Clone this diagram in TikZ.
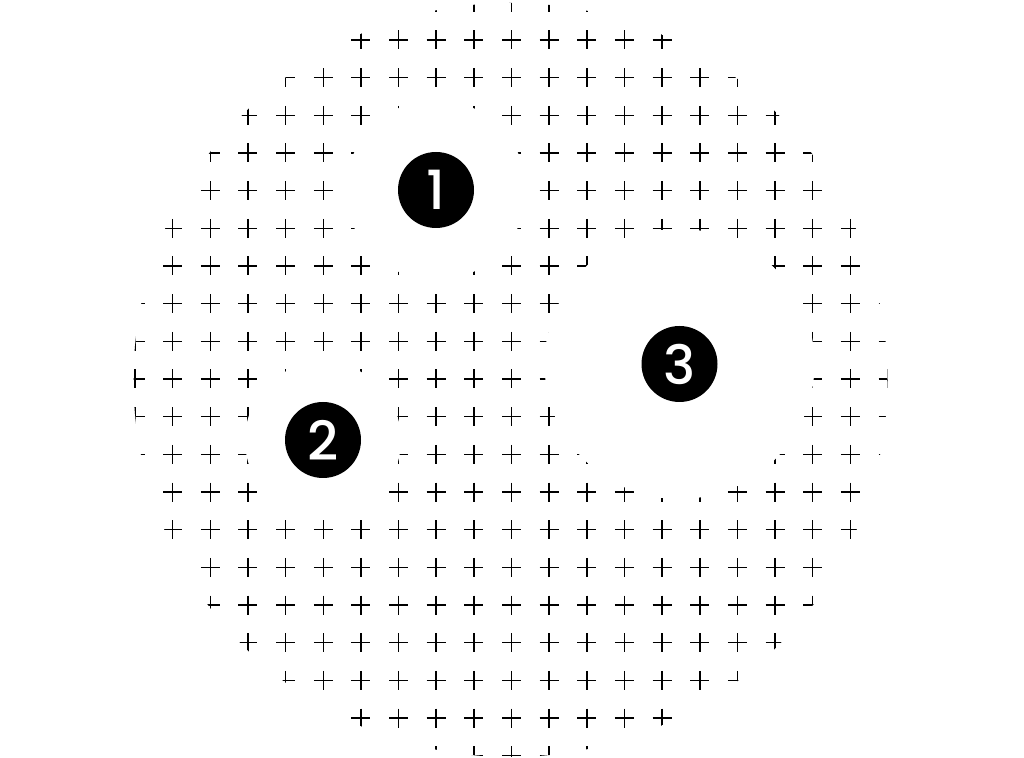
\documentclass[tikz,border=0pt]{standalone}
\usepackage{fontspec}
\setmainfont{Poppins}
\newfontfamily\numfont{Poppins Medium}
\usetikzlibrary{positioning}
\tikzset{
  cross/.style={line width=0.75pt,black},
  hole/.style={circle,fill=white,inner sep=0pt},
  badge/.style={circle,fill=black,text=white,inner sep=0pt,minimum size=38pt,font=\numfont\fontsize{27}{27}\selectfont}
}
\begin{document}
\begin{tikzpicture}[x=0.5pt,y=-0.5pt]
	\useasboundingbox (0,0) rectangle (1024,758);
	\coordinate[] (centre) at (511.5,379);
	\coordinate[] (rim) at (510.5,380);
	\coordinate[] (c1) at (436,190);
	\coordinate[] (c2) at (323,440);
	\coordinate[] (c3) at (679.5,364);
	
	% dotted field of crosses inside the big disc
	\begin{scope}
	\clip (rim) circle[radius=188.5pt];
	\foreach \i in {-10,...,10}
	\foreach \j in {-10,...,10}
	\draw[cross]([shift={(\i*37.65,\j*37.67)}]centre) +(-9.5,0) -- +(9.5,0) +(0,-9.5) -- +(0,9.5);
	\end{scope}
	
	\node (h1) at (c1)[hole,minimum size=90pt]{};
	\node (h2) at (c2)[hole,minimum size=78pt]{};
	\node (h3) at (c3)[hole,minimum size=135pt]{};
	
	\node (b1) at (c1)[badge]{1};
	\node (b2) at (c2)[badge]{2};
	\node (b3) at (c3)[badge]{3};
\end{tikzpicture}
\end{document}
